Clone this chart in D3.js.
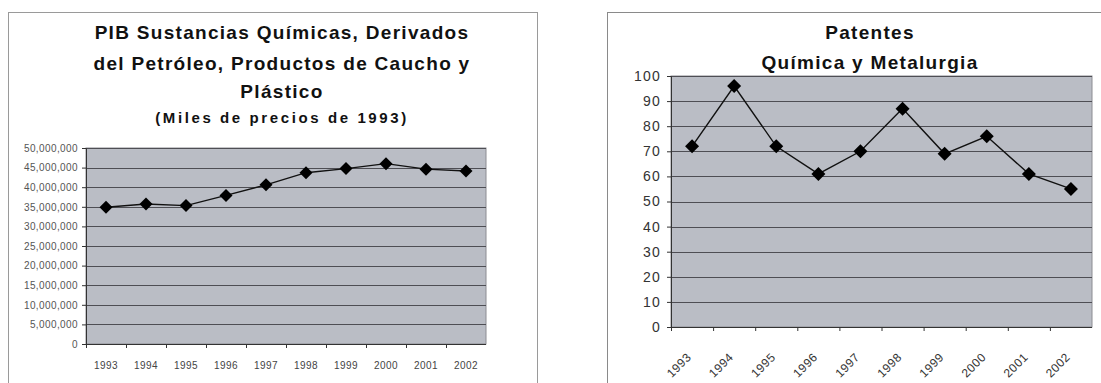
<!DOCTYPE html>
<html>
<head>
<meta charset="utf-8">
<script src="https://cdn.jsdelivr.net/npm/d3@7"></script>
<style>
  body { margin: 0; background: #fff; }
  svg { display: block; font-family: "Liberation Sans", Arial, sans-serif; }
</style>
</head>
<body>
<div id="chart-container"></div>
<script>
// data
var years = ["1993", "1994", "1995", "1996", "1997", "1998", "1999", "2000", "2001", "2002"];
var pibValues = [34900000, 35700000, 35300000, 37900000, 40600000, 43700000, 44750000, 46000000, 44600000, 44150000];
var pibTicks = [0, 5000000, 10000000, 15000000, 20000000, 25000000, 30000000, 35000000, 40000000, 45000000, 50000000];
var patentValues = [72, 96, 72, 61, 70, 87, 69, 76, 61, 55];
var patentTicks = [0, 10, 20, 30, 40, 50, 60, 70, 80, 90, 100];

var pibTitle = ["PIB Sustancias Químicas, Derivados", "del Petróleo, Productos de Caucho y", "Plástico"];
var pibSubtitle = "(Miles de precios de 1993)";
var patentTitle = ["Patentes", "Química y Metalurgia"];

var svgWidth = 1101;
var svgHeight = 383;

var svg = d3.select("#chart-container")
    .append("svg")
    .attr("width", svgWidth)
    .attr("height", svgHeight);

// frames of the two chart boxes
svg.append("rect")
    .attr("x", 8.5).attr("y", 12.5)
    .attr("width", 529).attr("height", 390)
    .style("fill", "none").style("stroke", "#9a9a9a");
svg.append("rect")
    .attr("x", 607.5).attr("y", 12.5)
    .attr("width", 520).attr("height", 390)
    .style("fill", "none").style("stroke", "#8a8a8a");

var plotBg = "#babdc5";
var gridColor = "#4e4e54";

function diamond(s) {
    return "M0," + (-s) + "L" + s + ",0L0," + s + "L" + (-s) + ",0Z";
}

function drawChart(opt) {
    var g = svg.append("g");

    var x = d3.scaleBand()
        .domain(opt.categories)
        .range([opt.left, opt.right]);

    var y = d3.scaleLinear()
        .domain([0, opt.max])
        .range([opt.bottom, opt.top]);

    // plot background
    g.append("rect")
        .attr("x", opt.left).attr("y", opt.top)
        .attr("width", opt.right - opt.left)
        .attr("height", opt.bottom - opt.top)
        .style("fill", plotBg)
        .style("stroke", "#8c8c92");

    // gridlines
    g.selectAll(".grid")
        .data(opt.ticks.slice(1))
        .enter().append("line")
        .attr("x1", opt.left).attr("x2", opt.right)
        .attr("y1", function(d) { return Math.round(y(d)) + 0.5; })
        .attr("y2", function(d) { return Math.round(y(d)) + 0.5; })
        .style("stroke", gridColor)
        .style("stroke-width", 1);

    // y axis
    var yAxis = g.append("g")
        .attr("transform", "translate(" + opt.left + ",0)")
        .call(d3.axisLeft(y).tickValues(opt.ticks).tickSize(4).tickPadding(opt.yPad).tickFormat(opt.yFormat));
    yAxis.select(".domain").style("stroke", "#333");
    yAxis.selectAll(".tick line").style("stroke", "#333");
    yAxis.selectAll("text")
        .style("font-size", opt.yFont + "px")
        .style("letter-spacing", opt.ySpacing + "px")
        .style("fill", opt.yColor);

    // x axis, ticks at category edges
    var xAxis = g.append("g")
        .attr("transform", "translate(0," + opt.bottom + ")");
    xAxis.append("line")
        .attr("x1", opt.left).attr("x2", opt.right)
        .attr("y1", 0.5).attr("y2", 0.5)
        .style("stroke", "#333");
    xAxis.selectAll(".xtick")
        .data(opt.categories)
        .enter().append("line")
        .attr("x1", function(d) { return x(d) + 0.5; })
        .attr("x2", function(d) { return x(d) + 0.5; })
        .attr("y1", 0).attr("y2", 4)
        .style("stroke", "#333");

    var labels = xAxis.selectAll(".xlabel")
        .data(opt.categories)
        .enter().append("text")
        .text(function(d) { return d; })
        .style("font-size", opt.xFont + "px")
        .style("letter-spacing", opt.xSpacing + "px")
        .style("fill", opt.xColor);
    if (opt.rotate) {
        labels
            .attr("text-anchor", "end")
            .attr("dy", "0.35em")
            .attr("transform", function(d) {
                return "translate(" + (x(d) + x.bandwidth() / 2 - 3) + "," + opt.xLabelY + ") rotate(-45)";
            });
    } else {
        labels
            .attr("text-anchor", "middle")
            .attr("x", function(d) { return x(d) + x.bandwidth() / 2; })
            .attr("y", opt.xLabelY);
    }

    // series line
    var line = d3.line()
        .x(function(d, i) { return x(opt.categories[i]) + x.bandwidth() / 2; })
        .y(function(d) { return y(d); });

    g.append("path")
        .datum(opt.values)
        .attr("d", line)
        .style("fill", "none")
        .style("stroke", "#111")
        .style("stroke-width", 1.4);

    // diamond markers
    g.selectAll(".dot")
        .data(opt.values)
        .enter().append("path")
        .attr("class", "dot")
        .attr("transform", function(d, i) {
            return "translate(" + (x(opt.categories[i]) + x.bandwidth() / 2) + "," + y(d) + ")";
        })
        .attr("d", diamond(opt.marker))
        .style("fill", "#000");

    // title
    g.selectAll(".title")
        .data(opt.title)
        .enter().append("text")
        .attr("x", opt.titleX)
        .attr("y", function(d, i) { return opt.titleY[i]; })
        .attr("text-anchor", "middle")
        .attr("dy", "0.35em")
        .text(function(d) { return d; })
        .style("font-size", function(d, i) { return opt.titleFont[i] + "px"; })
        .style("letter-spacing", function(d, i) { return opt.titleSpacing[i] + "px"; })
        .style("font-weight", "bold")
        .style("fill", "#111");
}

drawChart({
    categories: years,
    values: pibValues,
    ticks: pibTicks,
    max: 50000000,
    left: 86, right: 486, top: 148, bottom: 344,
    yFormat: d3.format(","),
    yFont: 10, ySpacing: 0.4, yColor: "#555", yPad: 4,
    xFont: 10, xSpacing: 0.5, xColor: "#444", xLabelY: 25,
    rotate: false,
    marker: 6.5,
    title: pibTitle.concat([pibSubtitle]),
    titleX: 282,
    titleY: [32, 63, 91, 118],
    titleFont: [19, 19, 19, 15],
    titleSpacing: [1.3, 1.3, 1.3, 2.6]
});

drawChart({
    categories: years,
    values: patentValues,
    ticks: patentTicks,
    max: 100,
    left: 671, right: 1092, top: 76, bottom: 327,
    yFormat: d3.format("d"),
    yFont: 14, ySpacing: 1.2, yColor: "#333", yPad: 6,
    xFont: 12, xSpacing: 0.5, xColor: "#333", xLabelY: 28,
    rotate: true,
    marker: 7,
    title: patentTitle,
    titleX: 870,
    titleY: [32, 62],
    titleFont: [19, 19],
    titleSpacing: [1.3, 1.3]
});
</script>
</body>
</html>
